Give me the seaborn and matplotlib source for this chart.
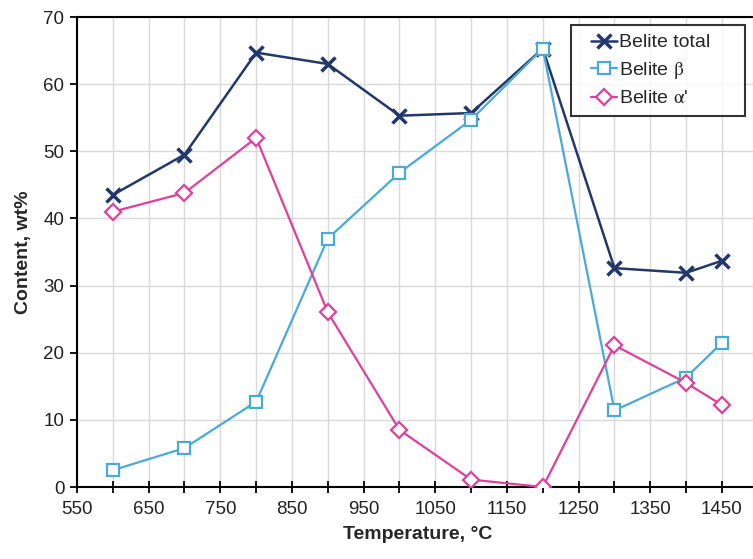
import matplotlib
matplotlib.use("Agg")
import matplotlib.pyplot as plt
import seaborn as sns
import pandas as pd
from matplotlib.ticker import MultipleLocator
from matplotlib.lines import Line2D
from matplotlib.legend_handler import HandlerLine2D

temperature = [600, 700, 800, 900, 1000, 1100, 1200, 1300, 1400, 1450]
belite_total = [43.5, 49.5, 64.7, 63.0, 55.3, 55.7, 65.3, 32.6, 31.9, 33.7]
belite_beta = [2.5, 5.8, 12.7, 37.0, 46.8, 54.7, 65.3, 11.4, 16.3, 21.5]
belite_alpha = [41.0, 43.8, 52.0, 26.0, 8.5, 1.1, 0.0, 21.1, 15.5, 12.2]
labels = ["Belite total", "Belite $\\mathrm{\\beta}$", "Belite $\\mathrm{\\alpha}$'"]

sns.set_theme(style="whitegrid")
plt.rcParams['font.family'] = ['Liberation Sans', 'DejaVu Sans']
plt.rcParams['mathtext.fontset'] = 'stix'

fig = plt.figure(figsize=(7.53, 5.59), dpi=100)
AX_W = 757.8 - 77
AX_H = 487 - 17
ax = fig.add_axes([77/753, 1-487/559, AX_W/753, AX_H/559])

c_total = "#22386a"
c_beta = "#4aaad6"
c_alpha = "#e0409c"

df = pd.DataFrame({"T": temperature, "total": belite_total,
                   "beta": belite_beta, "alpha": belite_alpha})

sns.lineplot(data=df, x="T", y="total", ax=ax, color=c_total, marker="x",
             markersize=10, markeredgewidth=2.5, markeredgecolor=c_total,
             linewidth=1.8, label=labels[0], zorder=3)
sns.lineplot(data=df, x="T", y="beta", ax=ax, color=c_beta, marker="s",
             markersize=8.5, markerfacecolor="white", markeredgecolor=c_beta,
             markeredgewidth=1.6, linewidth=1.6, label=labels[1], zorder=4)
sns.lineplot(data=df, x="T", y="alpha", ax=ax, color=c_alpha, marker="D",
             markersize=8, markerfacecolor="white", markeredgecolor=c_alpha,
             markeredgewidth=1.6, linewidth=1.6, label=labels[2], zorder=5)

ax.set_xlim(550, 1500)
ax.set_ylim(0, 70)
ax.xaxis.set_minor_locator(MultipleLocator(50))
ax.yaxis.set_major_locator(MultipleLocator(10))
ax.set_xticks(list(range(550, 1451, 100)))

ax.set_facecolor("white")
ax.grid(True, which="both", axis="x", color="#d9d9d9", linewidth=1.0)
ax.grid(True, which="major", axis="y", color="#d9d9d9", linewidth=1.0)
ax.set_axisbelow(True)

for side in ["left", "bottom", "top", "right"]:
    ax.spines[side].set_color("black")
    ax.spines[side].set_linewidth(1.5)
ax.spines["right"].set_visible(False)

ax.tick_params(axis="both", which="both", color="black", width=1.3, labelsize=13.5,
               labelcolor="#222222")
ax.tick_params(axis="x", which="both", direction="inout", length=8, bottom=True, pad=6)
ax.tick_params(axis="y", which="major", direction="out", length=5, left=True, pad=4)

ax.set_xlabel("Temperature, \u00b0C", fontsize=14, fontweight="bold", labelpad=6)
ax.set_ylabel("Content, wt%", fontsize=14, fontweight="bold", labelpad=8)

x0 = (571 - 77) / AX_W
w = 174 / AX_W
top = 1 - (25 - 17) / AX_H
h = 85 / AX_H
leg = ax.legend(loc="upper left", bbox_to_anchor=(x0, top - h, w, h), mode="expand",
                borderaxespad=0, fontsize=14, frameon=True, fancybox=False,
                edgecolor="black", handlelength=1.9, handletextpad=0.1,
                borderpad=0.45, labelspacing=0.45,
                handler_map={Line2D: HandlerLine2D(xpad=0.6)})
leg.get_frame().set_linewidth(1.5)

fig.savefig("out.png", dpi=100)
